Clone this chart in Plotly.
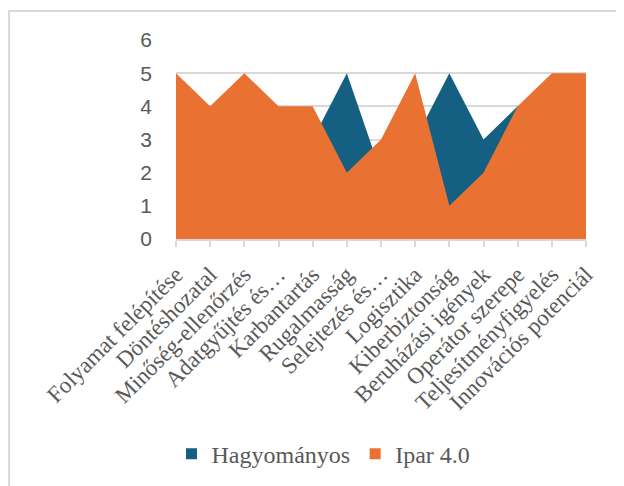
import plotly.graph_objects as go

categories = ["Folyamat felépítése", "Döntéshozatal", "Minőség-ellenőrzés",
              "Adatgyűjtés és…", "Karbantartás", "Rugalmasság", "Selejtezés és…",
              "Logisztika", "Kiberbiztonság", "Beruházási igények",
              "Operátor szerepe", "Teljesítményfigyelés", "Innovációs potenciál"]
hagyomanyos = [3, 3, 3, 3, 3, 5, 2, 3, 5, 3, 4, 4, 2]
ipar40 = [5, 4, 5, 4, 4, 2, 3, 5, 1, 2, 4, 5, 5]

BLUE = "#156082"
ORANGE = "#E97132"
GREY = "#595959"
LINE = "#D9D9D9"
SERIF = "Liberation Serif, Times New Roman, serif"

fig = go.Figure()

# areas (legend handled by dummy square markers below)
fig.add_trace(go.Scatter(x=categories, y=hagyomanyos, mode="none", fill="tozeroy",
                         fillcolor=BLUE, showlegend=False, hoverinfo="skip"))
fig.add_trace(go.Scatter(x=categories, y=ipar40, mode="none", fill="tozeroy",
                         fillcolor=ORANGE, showlegend=False, hoverinfo="skip"))

for name, col in [("Hagyományos", BLUE), ("Ipar 4.0", ORANGE)]:
    fig.add_trace(go.Scatter(x=[None], y=[None], mode="markers", name=name,
                             marker=dict(symbol="square", size=11, color=col)))

# page body has an 8px margin, so the margins are shifted by that
fig.update_layout(
    width=624, height=486,
    margin=dict(l=168, r=46, t=32, b=255),
    paper_bgcolor="white", plot_bgcolor="white",
    font=dict(family=SERIF, color=GREY),
    showlegend=True,
    legend=dict(orientation="h", xref="container", yref="container",
                x=0.262, xanchor="left", y=0.082, yanchor="middle",
                font=dict(family=SERIF, size=24, color=GREY),
                itemwidth=30, traceorder="normal"),
    shapes=[dict(type="rect", xref="paper", yref="paper",
                 x0=-0.407, x1=1.2, y0=-1.4, y1=1.146,
                 line=dict(color=LINE, width=2), layer="below")],
)

fig.update_xaxes(
    type="category", range=[0, len(categories) - 1],
    showgrid=False, showline=True, linecolor=LINE, linewidth=2,
    ticks="outside", ticklen=6, tickcolor=LINE, tickwidth=2,
    tickangle=-45, tickfont=dict(family=SERIF, size=23, color=GREY),
    ticklabelstandoff=5,
)
fig.update_yaxes(
    range=[0, 6], dtick=1, showgrid=True, gridcolor=LINE, gridwidth=2,
    zeroline=False, showline=False,
    tickfont=dict(family="Liberation Sans", size=21, color=GREY),
    ticklabelstandoff=23,
)

fig.write_html("out.html")
